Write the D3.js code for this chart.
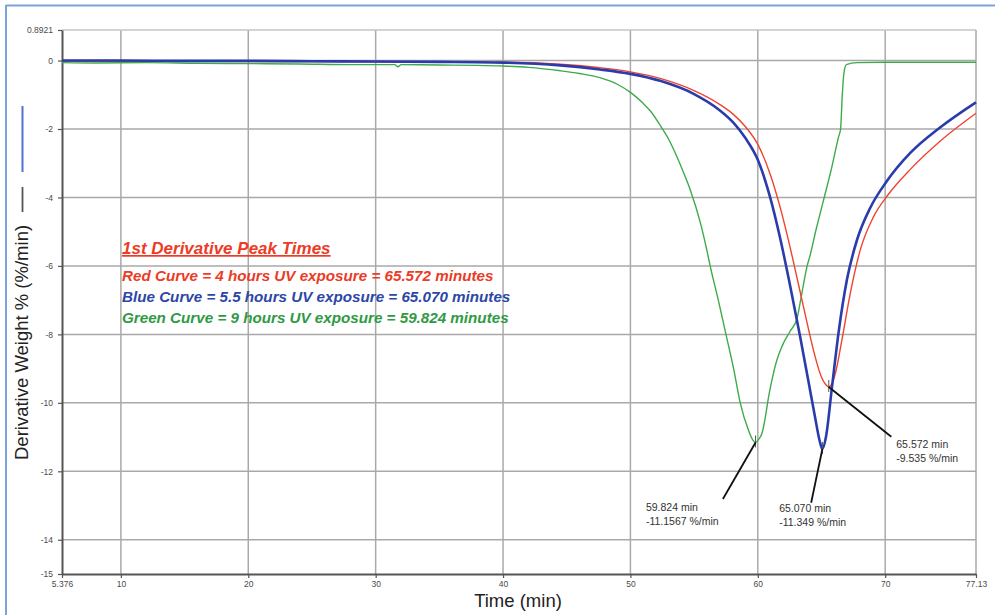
<!DOCTYPE html>
<html><head><meta charset="utf-8">
<script src="https://cdn.jsdelivr.net/npm/d3@7/dist/d3.min.js"></script>
<style>body{margin:0;background:#fff}svg{display:block}</style>
</head><body>
<svg id="chart" width="995" height="615"></svg>
<script>
// ---- data ----
const xTicks = [5.376, 10, 20, 30, 40, 50, 60, 70, 77.13];
const xTickLabels = ["5.376", "10", "20", "30", "40", "50", "60", "70", "77.13"];
const yTicks = [0.8921, 0, -2, -4, -6, -8, -10, -12, -14, -15];
const yTickLabels = ["0.8921", "0", "-2", "-4", "-6", "-8", "-10", "-12", "-14", "-15"];
const xGrid = [10, 20, 30, 40, 50, 60, 70];
const yGrid = [0, -2, -4, -6, -8, -10, -12, -14];

const greenTime  = [5.376, 8, 12, 16, 20, 24, 28, 31.5, 31.75, 32.0, 35, 38, 40, 42, 44.5, 46, 47.6, 49, 50, 51, 51.6, 52.4, 53.0, 53.65, 54.2, 54.7, 55.5, 56.0, 56.26, 56.9, 57.5, 58.1, 58.62, 59.27, 59.6, 59.824, 60.1, 60.33, 60.6, 60.85, 61.1, 61.5, 61.9, 62.55, 63.07, 63.46, 63.86, 64.1, 64.6, 65.16, 65.82, 66.34, 66.5, 66.62, 66.75, 66.95, 67.8, 70, 73, 77.13];
const greenValue = [-0.06, -0.07, -0.06, -0.08, -0.09, -0.10, -0.12, -0.12, -0.18, -0.12, -0.13, -0.14, -0.16, -0.20, -0.30, -0.38, -0.50, -0.70, -0.93, -1.25, -1.49, -1.93, -2.30, -2.81, -3.30, -3.78, -4.75, -5.54, -6.00, -7.00, -8.00, -9.00, -10.00, -10.80, -11.08, -11.157, -11.05, -10.89, -10.40, -9.82, -9.35, -8.75, -8.35, -7.90, -7.55, -6.80, -6.02, -5.70, -4.90, -4.08, -3.10, -2.23, -2.00, -1.10, -0.40, -0.12, -0.06, -0.05, -0.05, -0.05];

const blueTime  = [5.376, 10, 15, 20, 25, 30, 35, 40, 44.5, 47.6, 50, 52.4, 55, 57, 58.1, 59.0, 60.0, 60.97, 61.76, 62.55, 63.34, 63.99, 64.51, 64.85, 65.07, 65.35, 65.82, 66.34, 67.0, 67.78, 68.83, 70.08, 71.97, 74.33, 77.13];
const blueValue = [0.0, 0.0, -0.01, -0.01, -0.02, -0.03, -0.04, -0.06, -0.14, -0.26, -0.39, -0.60, -0.98, -1.45, -1.82, -2.25, -2.90, -4.00, -5.20, -6.60, -8.10, -9.40, -10.45, -11.10, -11.349, -11.00, -9.55, -7.95, -6.40, -5.25, -4.30, -3.55, -2.70, -1.95, -1.22];

const redTime  = [5.376, 10, 15, 20, 25, 30, 35, 40, 44.5, 47.6, 50, 52.4, 55, 57, 58.1, 59.0, 60.0, 61.0, 61.8, 62.5, 63.2, 63.86, 64.5, 65.0, 65.3, 65.572, 65.85, 66.1, 66.6, 67.26, 68.04, 69.09, 70.27, 71.97, 74.33, 77.13];
const redValue = [-0.02, -0.02, -0.02, -0.03, -0.03, -0.04, -0.05, -0.05, -0.11, -0.21, -0.33, -0.53, -0.88, -1.28, -1.58, -1.92, -2.45, -3.35, -4.35, -5.40, -6.55, -7.65, -8.65, -9.25, -9.45, -9.535, -9.42, -9.12, -8.17, -6.80, -5.54, -4.56, -3.90, -3.18, -2.35, -1.54];

const peakTime  = [59.824, 65.070, 65.572];
const peakValue = [-11.1567, -11.349, -9.535];
const peakLabelTime  = [57.26, 64.19, 70.48];
const peakLabelValue = [-12.81, -12.92, -10.99];
const peakText1 = ["59.824 min", "65.070 min", "65.572 min"];
const peakText2 = ["-11.1567 %/min", "-11.349 %/min", "-9.535 %/min"];

const legendTitle = "1st Derivative Peak Times";
const legendLines = [
  "Red Curve = 4 hours UV exposure = 65.572 minutes",
  "Blue Curve = 5.5 hours UV exposure = 65.070 minutes",
  "Green Curve = 9 hours UV exposure = 59.824 minutes"
];

// ---- styles ----
const RED = "#f0432e", BLUE = "#2a3cab", GREEN = "#3dab4b";
const TXT_RED = "#ec3b26", TXT_BLUE = "#2c47a6", TXT_GREEN = "#2f9a43";
const FONT = "Liberation Sans, Arial, sans-serif";

const svg = d3.select("#chart");
const x = d3.scaleLinear().domain([5.376, 77.13]).range([62, 976]);
const y = d3.scaleLinear().domain([0.8921, -15]).range([30, 574]);

// outer frame
svg.append("line").attr("x1", 6).attr("x2", 995).attr("y1", 5.5).attr("y2", 5.5)
  .attr("stroke", "#7ba3d9").attr("stroke-width", 2);
svg.append("line").attr("x1", 6).attr("x2", 6).attr("y1", 5).attr("y2", 615)
  .attr("stroke", "#7ba3d9").attr("stroke-width", 2);

// grid
const g = svg.append("g");
g.selectAll(".vg").data(xGrid).join("line")
  .attr("x1", d => x(d)).attr("x2", d => x(d)).attr("y1", y(0.8921)).attr("y2", y(-15))
  .attr("stroke", "#a9a9a9").attr("stroke-width", 1.5);
g.selectAll(".hg").data(yGrid).join("line")
  .attr("x1", x(5.376)).attr("x2", x(77.13)).attr("y1", d => y(d)).attr("y2", d => y(d))
  .attr("stroke", "#a9a9a9").attr("stroke-width", 1.5);
g.append("line").attr("x1", x(5.376)).attr("x2", x(77.13)).attr("y1", y(0.8921)).attr("y2", y(0.8921))
  .attr("stroke", "#c4c4c4").attr("stroke-width", 1.5);
g.append("line").attr("x1", x(77.13)).attr("x2", x(77.13)).attr("y1", y(0.8921)).attr("y2", y(-15))
  .attr("stroke", "#a9a9a9").attr("stroke-width", 1.5);

// axes
const yAxis = d3.axisLeft(y).tickValues(yTicks).tickFormat((d, i) => yTickLabels[i])
  .tickSize(4).tickSizeOuter(0).tickPadding(5);
const xAxis = d3.axisBottom(x).tickValues(xTicks).tickFormat((d, i) => xTickLabels[i])
  .tickSize(4).tickSizeOuter(0).tickPadding(3);
const ya = svg.append("g").attr("transform", `translate(${x(5.376)},0)`).call(yAxis);
const xa = svg.append("g").attr("transform", `translate(0,${y(-15)})`).call(xAxis);
[ya, xa].forEach(a => {
  a.select(".domain").attr("stroke", "#555").attr("stroke-width", 2);
  a.selectAll(".tick line").attr("stroke", "#555").attr("stroke-width", 1.2);
  a.selectAll(".tick text").attr("fill", "#4a4a4a").attr("font-size", 8.5).attr("font-family", FONT);
});

// curves
const line = d3.line().x(d => x(d[0])).y(d => y(d[1])).curve(d3.curveMonotoneX);
const series = [
  {t: greenTime, v: greenValue, c: GREEN, w: 1.4},
  {t: redTime, v: redValue, c: RED, w: 1.4},
  {t: blueTime, v: blueValue, c: BLUE, w: 2.6}
];
series.forEach(s => {
  svg.append("path").datum(s.t.map((t, i) => [t, s.v[i]]))
    .attr("d", line).attr("fill", "none").attr("stroke", s.c)
    .attr("stroke-width", s.w).attr("stroke-linejoin", "round");
});

// peak annotations
const ann = svg.append("g").attr("font-family", FONT).attr("font-size", 10.5).attr("fill", "#333");
const textOffsets = [[-77, 12], [-32, 9.5], [5, 11.5]];
peakTime.forEach((pt, i) => {
  const px = x(pt), py = y(peakValue[i]);
  const lx = x(peakLabelTime[i]), ly = y(peakLabelValue[i]);
  ann.append("line").attr("x1", px).attr("x2", px).attr("y1", py - 7).attr("y2", py + 5)
    .attr("stroke", "#555").attr("stroke-width", 1);
  ann.append("line").attr("x1", px).attr("y1", py).attr("x2", lx).attr("y2", ly)
    .attr("stroke", "#111").attr("stroke-width", 1.8);
  const t = ann.append("text").attr("x", lx + textOffsets[i][0]).attr("y", ly + textOffsets[i][1]);
  t.append("tspan").attr("x", lx + textOffsets[i][0]).text(peakText1[i]);
  t.append("tspan").attr("x", lx + textOffsets[i][0]).attr("dy", 13.5).text(peakText2[i]);
});

// legend text
const leg = svg.append("g").attr("font-family", FONT).attr("font-style", "italic").attr("font-weight", "bold");
leg.append("text").attr("x", 122).attr("y", 254).attr("font-size", 17)
  .attr("fill", TXT_RED).attr("text-decoration", "underline").text(legendTitle);
const legColors = [TXT_RED, TXT_BLUE, TXT_GREEN];
legendLines.forEach((s, i) => {
  leg.append("text").attr("x", 122).attr("y", 281 + i * 21).attr("font-size", 15.2)
    .attr("fill", legColors[i]).text(s);
});

// axis titles
svg.append("text").attr("x", 518).attr("y", 607).attr("text-anchor", "middle")
  .attr("font-family", FONT).attr("font-size", 18.5).attr("fill", "#222").text("Time (min)");
svg.append("text").attr("transform", "translate(28,460) rotate(-90)")
  .attr("font-family", FONT).attr("font-size", 18.5).attr("fill", "#222").text("Derivative Weight % (%/min)");
// y title series markers
svg.append("line").attr("x1", 22.5).attr("x2", 22.5).attr("y1", 106).attr("y2", 172)
  .attr("stroke", "#4f74cf").attr("stroke-width", 2);
svg.append("line").attr("x1", 22.5).attr("x2", 22.5).attr("y1", 187).attr("y2", 212)
  .attr("stroke", "#555").attr("stroke-width", 1.8);
</script>
</body></html>
